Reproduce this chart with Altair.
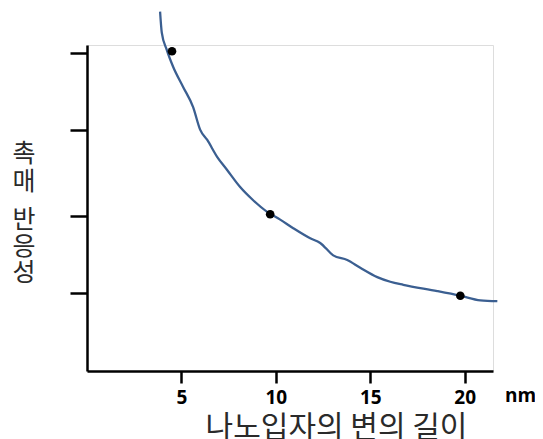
import altair as alt
import pandas as pd

# Curve
curve_x = [3.87, 3.96, 4.22, 4.56, 5.09, 5.62, 5.99, 6.36, 6.89, 7.42, 8.11, 8.80, 9.54,
           10.23, 10.92, 11.82, 12.35, 13.04, 13.78, 14.47, 15.37, 16.06, 16.75, 18.55,
           19.77, 20.83, 21.73]
curve_y = [4.63, 4.36, 4.14, 3.92, 3.66, 3.40, 3.11, 2.98, 2.76, 2.59, 2.37, 2.20, 2.05,
           1.95, 1.84, 1.71, 1.65, 1.49, 1.43, 1.33, 1.21, 1.15, 1.11, 1.03,
           0.97, 0.91, 0.90]

# Measured points
dot_x = [4.5, 9.7, 19.77]
dot_y = [4.12, 2.02, 0.97]

x_ticks = [5, 10, 15, 20]
y_ticks = [1.0, 2.0, 3.1, 4.1]

x_title = "나노입자의 변의 길이"
y_title_parts = ["촉\n매", "반\n응\n성"]
unit_label = "nm"

KR = "Noto Sans CJK KR"

curve_df = pd.DataFrame({"x": curve_x, "y": curve_y})
dot_df = pd.DataFrame({"x": dot_x, "y": dot_y})

xscale = alt.Scale(domain=[0, 21.5], nice=False, zero=False)
yscale = alt.Scale(domain=[0, 4.2], nice=False, zero=False)

xaxis = alt.Axis(values=x_ticks, title=x_title, grid=False,
                 domainColor="black", domainWidth=2.5,
                 tickColor="black", tickWidth=2.5, tickSize=12,
                 labelFont="Open Sans", labelFontWeight="bold", labelFontSize=19,
                 labelColor="black", labelPadding=5,
                 titleFont=KR, titleFontSize=30, titleFontWeight="normal",
                 titleColor="#2a2a2a", titleX=249, titleY=56,
                 titleAlign="center", titleBaseline="middle")
yaxis = alt.Axis(values=y_ticks, title=None, labels=False, grid=False,
                 domainColor="black", domainWidth=2.5,
                 tickColor="black", tickWidth=2.5, tickSize=17)

line = alt.Chart(curve_df).mark_line(color="#3b5f91", strokeWidth=2.3, clip=False,
                                     interpolate="monotone").encode(
    x=alt.X("x:Q", scale=xscale, axis=xaxis),
    y=alt.Y("y:Q", scale=yscale, axis=yaxis),
    order=alt.Order("x:Q"),
)

dots = alt.Chart(dot_df).mark_circle(color="black", size=75, opacity=1).encode(
    x=alt.X("x:Q", scale=xscale),
    y=alt.Y("y:Q", scale=yscale),
)

ytitle1 = alt.Chart(pd.DataFrame({"t": [y_title_parts[0]]})).mark_text(
    font=KR, fontSize=25, lineBreak="\n", lineHeight=28, align="center",
    baseline="middle", color="#2a2a2a"
).encode(text="t:N", x=alt.value(-63), y=alt.value(109))

ytitle2 = alt.Chart(pd.DataFrame({"t": [y_title_parts[1]]})).mark_text(
    font=KR, fontSize=25, lineBreak="\n", lineHeight=26.5, align="center",
    baseline="middle", color="#2a2a2a"
).encode(text="t:N", x=alt.value(-63), y=alt.value(175))

nm = alt.Chart(pd.DataFrame({"t": [unit_label]})).mark_text(
    font="Open Sans", fontSize=19, fontWeight="bold", align="left",
    baseline="middle", color="black"
).encode(text="t:N", x=alt.value(418), y=alt.value(351))

chart = alt.layer(line, dots, ytitle1, ytitle2, nm).properties(
    width=406, height=326,
    autosize=alt.AutoSizeParams(type="none"),
    padding={"left": 79, "top": 37, "right": 42, "bottom": 68},
).configure_view(stroke=None).configure(background="white")

chart.save("out.html", embed_options={"renderer": "svg", "actions": False})
